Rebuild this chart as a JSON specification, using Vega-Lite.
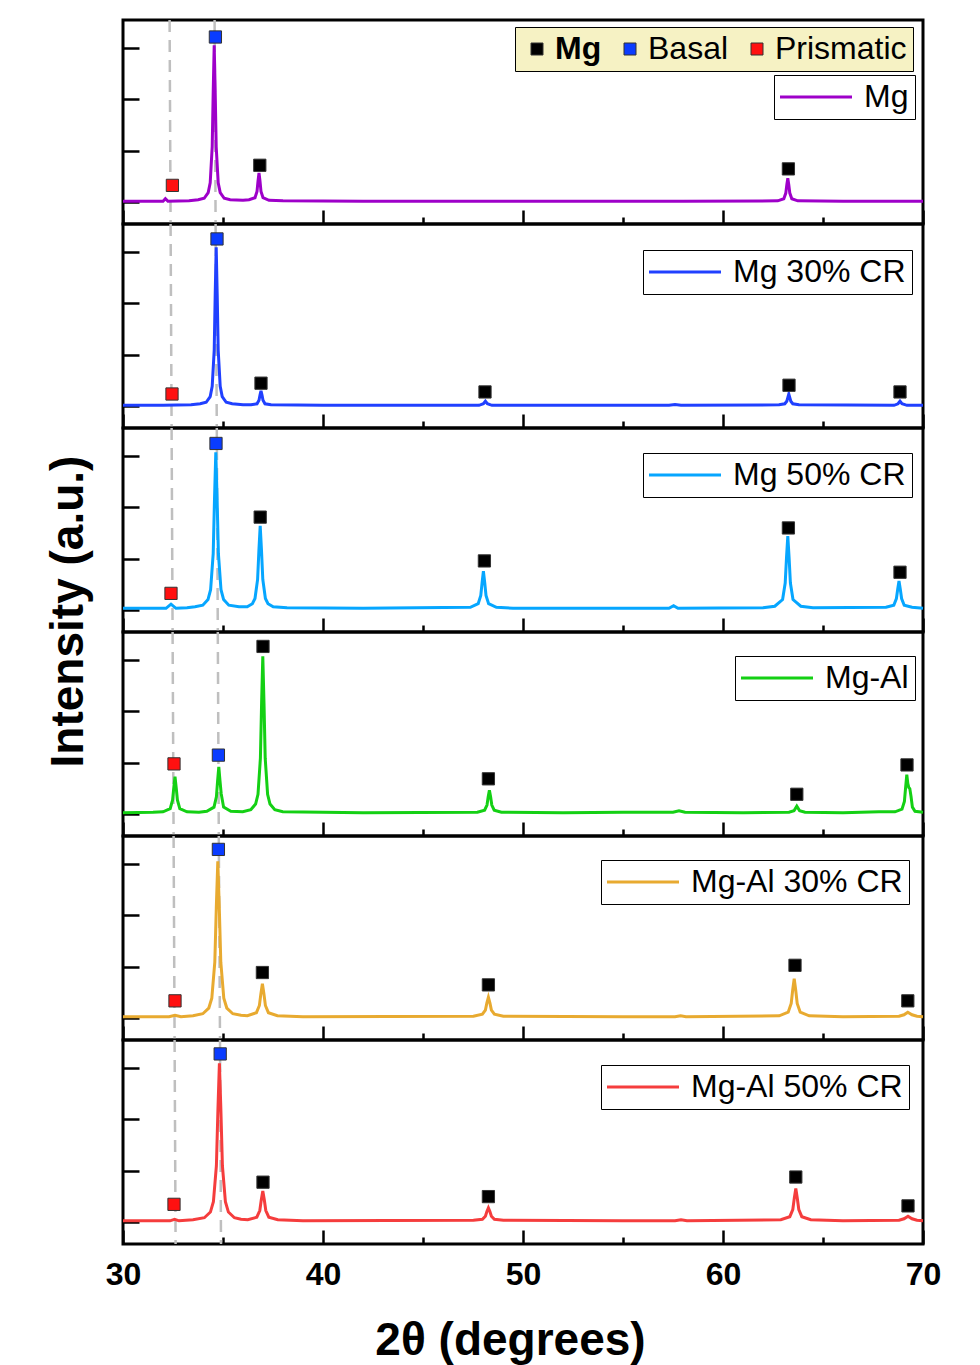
{
  "$schema": "https://vega.github.io/schema/vega-lite/v6.json",
  "background": "white",
  "padding": {"left": 43, "top": 17, "right": 40, "bottom": 0},
  "spacing": 0,
  "bounds": "flush",
  "resolve": {"scale": {"stroke": "independent", "fill": "independent"}, "legend": {"stroke": "independent", "fill": "independent"}},
  "config": {
    "font": "Liberation Sans",
    "view": {"stroke": "black", "strokeWidth": 3},
    "axis": {"domain": false, "grid": false, "tickColor": "black", "tickWidth": 2.5, "labels": false},
    "legend": {"labelFont": "Liberation Sans", "labelColor": "black", "labelFontSize": 32, "labelLimit": 500, "padding": 6}
  },
  "datasets": {
    "guides": [
      {"s": "Mg", "xa": 32.33, "xb": 32.38}, {"s": "Mg", "xa": 34.58, "xb": 34.63},
      {"s": "Mg 30% CR", "xa": 32.38, "xb": 32.43}, {"s": "Mg 30% CR", "xa": 34.63, "xb": 34.69},
      {"s": "Mg 50% CR", "xa": 32.43, "xb": 32.48}, {"s": "Mg 50% CR", "xa": 34.69, "xb": 34.74},
      {"s": "Mg-Al", "xa": 32.48, "xb": 32.53}, {"s": "Mg-Al", "xa": 34.74, "xb": 34.79},
      {"s": "Mg-Al 30% CR", "xa": 32.53, "xb": 32.58}, {"s": "Mg-Al 30% CR", "xa": 34.79, "xb": 34.85},
      {"s": "Mg-Al 50% CR", "xa": 32.58, "xb": 32.63}, {"s": "Mg-Al 50% CR", "xa": 34.85, "xb": 34.9}
    ],
    "marks": [
      {"s": "Mg", "t": "Prismatic", "x": 32.47, "y": 0.33}, {"s": "Mg", "t": "Basal", "x": 34.62, "y": 3.21}, {"s": "Mg", "t": "Mg", "x": 36.84, "y": 0.72}, {"s": "Mg", "t": "Mg", "x": 63.27, "y": 0.65},
      {"s": "Mg 30% CR", "t": "Prismatic", "x": 32.45, "y": 0.24}, {"s": "Mg 30% CR", "t": "Basal", "x": 34.7, "y": 3.25}, {"s": "Mg 30% CR", "t": "Mg", "x": 36.9, "y": 0.45}, {"s": "Mg 30% CR", "t": "Mg", "x": 48.1, "y": 0.28}, {"s": "Mg 30% CR", "t": "Mg", "x": 63.3, "y": 0.41}, {"s": "Mg 30% CR", "t": "Mg", "x": 68.85, "y": 0.28},
      {"s": "Mg 50% CR", "t": "Prismatic", "x": 32.4, "y": 0.33}, {"s": "Mg 50% CR", "t": "Basal", "x": 34.65, "y": 3.24}, {"s": "Mg 50% CR", "t": "Mg", "x": 36.86, "y": 1.81}, {"s": "Mg 50% CR", "t": "Mg", "x": 48.07, "y": 0.96}, {"s": "Mg 50% CR", "t": "Mg", "x": 63.27, "y": 1.6}, {"s": "Mg 50% CR", "t": "Mg", "x": 68.85, "y": 0.74},
      {"s": "Mg-Al", "t": "Prismatic", "x": 32.55, "y": 0.98}, {"s": "Mg-Al", "t": "Basal", "x": 34.77, "y": 1.15}, {"s": "Mg-Al", "t": "Mg", "x": 37.0, "y": 3.26}, {"s": "Mg-Al", "t": "Mg", "x": 48.27, "y": 0.69}, {"s": "Mg-Al", "t": "Mg", "x": 63.69, "y": 0.39}, {"s": "Mg-Al", "t": "Mg", "x": 69.2, "y": 0.96},
      {"s": "Mg-Al 30% CR", "t": "Prismatic", "x": 32.6, "y": 0.34}, {"s": "Mg-Al 30% CR", "t": "Basal", "x": 34.77, "y": 3.28}, {"s": "Mg-Al 30% CR", "t": "Mg", "x": 36.97, "y": 0.89}, {"s": "Mg-Al 30% CR", "t": "Mg", "x": 48.27, "y": 0.65}, {"s": "Mg-Al 30% CR", "t": "Mg", "x": 63.6, "y": 1.03}, {"s": "Mg-Al 30% CR", "t": "Mg", "x": 69.24, "y": 0.34},
      {"s": "Mg-Al 50% CR", "t": "Prismatic", "x": 32.55, "y": 0.35}, {"s": "Mg-Al 50% CR", "t": "Basal", "x": 34.86, "y": 3.27}, {"s": "Mg-Al 50% CR", "t": "Mg", "x": 37.0, "y": 0.78}, {"s": "Mg-Al 50% CR", "t": "Mg", "x": 48.27, "y": 0.5}, {"s": "Mg-Al 50% CR", "t": "Mg", "x": 63.64, "y": 0.88}, {"s": "Mg-Al 50% CR", "t": "Mg", "x": 69.25, "y": 0.32}
    ],
    "xrd": [
      {"s": "Mg", "x": 30, "y": 0.02}, {"s": "Mg", "x": 31, "y": 0.02}, {"s": "Mg", "x": 32.0, "y": 0.02}, {"s": "Mg", "x": 32.12, "y": 0.07}, {"s": "Mg", "x": 32.25, "y": 0.02}, {"s": "Mg", "x": 33.3, "y": 0.03}, {"s": "Mg", "x": 33.76, "y": 0.05}, {"s": "Mg", "x": 34.06, "y": 0.08}, {"s": "Mg", "x": 34.26, "y": 0.19}, {"s": "Mg", "x": 34.36, "y": 0.38}, {"s": "Mg", "x": 34.46, "y": 1.08}, {"s": "Mg", "x": 34.51, "y": 2.14}, {"s": "Mg", "x": 34.56, "y": 3.05}, {"s": "Mg", "x": 34.61, "y": 2.14}, {"s": "Mg", "x": 34.66, "y": 1.08}, {"s": "Mg", "x": 34.76, "y": 0.38}, {"s": "Mg", "x": 34.86, "y": 0.19}, {"s": "Mg", "x": 35.06, "y": 0.08}, {"s": "Mg", "x": 35.36, "y": 0.05}, {"s": "Mg", "x": 36.0, "y": 0.04}, {"s": "Mg", "x": 36.3, "y": 0.05}, {"s": "Mg", "x": 36.6, "y": 0.09}, {"s": "Mg", "x": 36.7, "y": 0.21}, {"s": "Mg", "x": 36.75, "y": 0.41}, {"s": "Mg", "x": 36.8, "y": 0.57}, {"s": "Mg", "x": 36.85, "y": 0.41}, {"s": "Mg", "x": 36.9, "y": 0.21}, {"s": "Mg", "x": 37.0, "y": 0.09}, {"s": "Mg", "x": 37.3, "y": 0.04}, {"s": "Mg", "x": 38, "y": 0.03}, {"s": "Mg", "x": 42, "y": 0.02}, {"s": "Mg", "x": 50, "y": 0.02}, {"s": "Mg", "x": 58, "y": 0.02}, {"s": "Mg", "x": 62.74, "y": 0.03}, {"s": "Mg", "x": 63.04, "y": 0.07}, {"s": "Mg", "x": 63.14, "y": 0.18}, {"s": "Mg", "x": 63.19, "y": 0.34}, {"s": "Mg", "x": 63.24, "y": 0.47}, {"s": "Mg", "x": 63.29, "y": 0.34}, {"s": "Mg", "x": 63.34, "y": 0.18}, {"s": "Mg", "x": 63.44, "y": 0.07}, {"s": "Mg", "x": 63.74, "y": 0.03}, {"s": "Mg", "x": 66, "y": 0.02}, {"s": "Mg", "x": 70, "y": 0.02},

      {"s": "Mg 30% CR", "x": 30, "y": 0.02}, {"s": "Mg 30% CR", "x": 32, "y": 0.02}, {"s": "Mg 30% CR", "x": 33.4, "y": 0.03}, {"s": "Mg 30% CR", "x": 33.86, "y": 0.05}, {"s": "Mg 30% CR", "x": 34.16, "y": 0.08}, {"s": "Mg 30% CR", "x": 34.36, "y": 0.19}, {"s": "Mg 30% CR", "x": 34.46, "y": 0.39}, {"s": "Mg 30% CR", "x": 34.56, "y": 1.09}, {"s": "Mg 30% CR", "x": 34.61, "y": 2.17}, {"s": "Mg 30% CR", "x": 34.66, "y": 3.09}, {"s": "Mg 30% CR", "x": 34.71, "y": 2.17}, {"s": "Mg 30% CR", "x": 34.76, "y": 1.09}, {"s": "Mg 30% CR", "x": 34.86, "y": 0.39}, {"s": "Mg 30% CR", "x": 34.96, "y": 0.19}, {"s": "Mg 30% CR", "x": 35.16, "y": 0.08}, {"s": "Mg 30% CR", "x": 35.46, "y": 0.05}, {"s": "Mg 30% CR", "x": 36.0, "y": 0.03}, {"s": "Mg 30% CR", "x": 36.4, "y": 0.03}, {"s": "Mg 30% CR", "x": 36.7, "y": 0.05}, {"s": "Mg 30% CR", "x": 36.8, "y": 0.12}, {"s": "Mg 30% CR", "x": 36.85, "y": 0.22}, {"s": "Mg 30% CR", "x": 36.9, "y": 0.3}, {"s": "Mg 30% CR", "x": 36.95, "y": 0.22}, {"s": "Mg 30% CR", "x": 37.0, "y": 0.12}, {"s": "Mg 30% CR", "x": 37.1, "y": 0.05}, {"s": "Mg 30% CR", "x": 37.4, "y": 0.03}, {"s": "Mg 30% CR", "x": 40, "y": 0.02}, {"s": "Mg 30% CR", "x": 47.8, "y": 0.02}, {"s": "Mg 30% CR", "x": 48.02, "y": 0.05}, {"s": "Mg 30% CR", "x": 48.12, "y": 0.1}, {"s": "Mg 30% CR", "x": 48.22, "y": 0.05}, {"s": "Mg 30% CR", "x": 48.45, "y": 0.02}, {"s": "Mg 30% CR", "x": 57.3, "y": 0.02}, {"s": "Mg 30% CR", "x": 57.6, "y": 0.035}, {"s": "Mg 30% CR", "x": 57.9, "y": 0.02}, {"s": "Mg 30% CR", "x": 62.8, "y": 0.03}, {"s": "Mg 30% CR", "x": 63.09, "y": 0.05}, {"s": "Mg 30% CR", "x": 63.19, "y": 0.1}, {"s": "Mg 30% CR", "x": 63.24, "y": 0.17}, {"s": "Mg 30% CR", "x": 63.29, "y": 0.24}, {"s": "Mg 30% CR", "x": 63.34, "y": 0.17}, {"s": "Mg 30% CR", "x": 63.39, "y": 0.1}, {"s": "Mg 30% CR", "x": 63.49, "y": 0.05}, {"s": "Mg 30% CR", "x": 63.8, "y": 0.03}, {"s": "Mg 30% CR", "x": 68.55, "y": 0.02}, {"s": "Mg 30% CR", "x": 68.75, "y": 0.05}, {"s": "Mg 30% CR", "x": 68.85, "y": 0.1}, {"s": "Mg 30% CR", "x": 68.95, "y": 0.05}, {"s": "Mg 30% CR", "x": 69.2, "y": 0.02}, {"s": "Mg 30% CR", "x": 70, "y": 0.02},

      {"s": "Mg 50% CR", "x": 30, "y": 0.04}, {"s": "Mg 50% CR", "x": 32.15, "y": 0.04}, {"s": "Mg 50% CR", "x": 32.4, "y": 0.12}, {"s": "Mg 50% CR", "x": 32.65, "y": 0.04}, {"s": "Mg 50% CR", "x": 33.2, "y": 0.05}, {"s": "Mg 50% CR", "x": 33.6, "y": 0.07}, {"s": "Mg 50% CR", "x": 33.99, "y": 0.1}, {"s": "Mg 50% CR", "x": 34.25, "y": 0.21}, {"s": "Mg 50% CR", "x": 34.38, "y": 0.4}, {"s": "Mg 50% CR", "x": 34.51, "y": 1.1}, {"s": "Mg 50% CR", "x": 34.575, "y": 2.16}, {"s": "Mg 50% CR", "x": 34.64, "y": 3.07}, {"s": "Mg 50% CR", "x": 34.705, "y": 2.16}, {"s": "Mg 50% CR", "x": 34.77, "y": 1.1}, {"s": "Mg 50% CR", "x": 34.9, "y": 0.4}, {"s": "Mg 50% CR", "x": 35.03, "y": 0.21}, {"s": "Mg 50% CR", "x": 35.29, "y": 0.1}, {"s": "Mg 50% CR", "x": 35.8, "y": 0.07}, {"s": "Mg 50% CR", "x": 36.21, "y": 0.07}, {"s": "Mg 50% CR", "x": 36.47, "y": 0.13}, {"s": "Mg 50% CR", "x": 36.6, "y": 0.23}, {"s": "Mg 50% CR", "x": 36.73, "y": 0.6}, {"s": "Mg 50% CR", "x": 36.795, "y": 1.16}, {"s": "Mg 50% CR", "x": 36.86, "y": 1.64}, {"s": "Mg 50% CR", "x": 36.925, "y": 1.16}, {"s": "Mg 50% CR", "x": 36.99, "y": 0.6}, {"s": "Mg 50% CR", "x": 37.12, "y": 0.23}, {"s": "Mg 50% CR", "x": 37.25, "y": 0.13}, {"s": "Mg 50% CR", "x": 37.51, "y": 0.07}, {"s": "Mg 50% CR", "x": 38.2, "y": 0.05}, {"s": "Mg 50% CR", "x": 42, "y": 0.04}, {"s": "Mg 50% CR", "x": 47.37, "y": 0.06}, {"s": "Mg 50% CR", "x": 47.76, "y": 0.13}, {"s": "Mg 50% CR", "x": 47.89, "y": 0.29}, {"s": "Mg 50% CR", "x": 47.955, "y": 0.54}, {"s": "Mg 50% CR", "x": 48.02, "y": 0.76}, {"s": "Mg 50% CR", "x": 48.085, "y": 0.54}, {"s": "Mg 50% CR", "x": 48.15, "y": 0.29}, {"s": "Mg 50% CR", "x": 48.28, "y": 0.13}, {"s": "Mg 50% CR", "x": 48.67, "y": 0.06}, {"s": "Mg 50% CR", "x": 49.5, "y": 0.04}, {"s": "Mg 50% CR", "x": 57.3, "y": 0.04}, {"s": "Mg 50% CR", "x": 57.53, "y": 0.09}, {"s": "Mg 50% CR", "x": 57.75, "y": 0.04}, {"s": "Mg 50% CR", "x": 62.0, "y": 0.05}, {"s": "Mg 50% CR", "x": 62.59, "y": 0.08}, {"s": "Mg 50% CR", "x": 62.98, "y": 0.21}, {"s": "Mg 50% CR", "x": 63.11, "y": 0.53}, {"s": "Mg 50% CR", "x": 63.175, "y": 1.02}, {"s": "Mg 50% CR", "x": 63.24, "y": 1.44}, {"s": "Mg 50% CR", "x": 63.305, "y": 1.02}, {"s": "Mg 50% CR", "x": 63.37, "y": 0.53}, {"s": "Mg 50% CR", "x": 63.5, "y": 0.21}, {"s": "Mg 50% CR", "x": 63.89, "y": 0.08}, {"s": "Mg 50% CR", "x": 64.5, "y": 0.05}, {"s": "Mg 50% CR", "x": 68.15, "y": 0.06}, {"s": "Mg 50% CR", "x": 68.54, "y": 0.1}, {"s": "Mg 50% CR", "x": 68.67, "y": 0.23}, {"s": "Mg 50% CR", "x": 68.735, "y": 0.41}, {"s": "Mg 50% CR", "x": 68.8, "y": 0.57}, {"s": "Mg 50% CR", "x": 68.865, "y": 0.41}, {"s": "Mg 50% CR", "x": 68.93, "y": 0.23}, {"s": "Mg 50% CR", "x": 69.06, "y": 0.1}, {"s": "Mg 50% CR", "x": 69.45, "y": 0.06}, {"s": "Mg 50% CR", "x": 70, "y": 0.04},

      {"s": "Mg-Al", "x": 30, "y": 0.03}, {"s": "Mg-Al", "x": 31.5, "y": 0.04}, {"s": "Mg-Al", "x": 32.0, "y": 0.05}, {"s": "Mg-Al", "x": 32.36, "y": 0.11}, {"s": "Mg-Al", "x": 32.48, "y": 0.28}, {"s": "Mg-Al", "x": 32.54, "y": 0.52}, {"s": "Mg-Al", "x": 32.6, "y": 0.73}, {"s": "Mg-Al", "x": 32.66, "y": 0.52}, {"s": "Mg-Al", "x": 32.72, "y": 0.28}, {"s": "Mg-Al", "x": 32.84, "y": 0.11}, {"s": "Mg-Al", "x": 33.2, "y": 0.05}, {"s": "Mg-Al", "x": 33.8, "y": 0.04}, {"s": "Mg-Al", "x": 34.19, "y": 0.06}, {"s": "Mg-Al", "x": 34.55, "y": 0.14}, {"s": "Mg-Al", "x": 34.67, "y": 0.34}, {"s": "Mg-Al", "x": 34.73, "y": 0.65}, {"s": "Mg-Al", "x": 34.79, "y": 0.92}, {"s": "Mg-Al", "x": 34.85, "y": 0.65}, {"s": "Mg-Al", "x": 34.91, "y": 0.4}, {"s": "Mg-Al", "x": 35.03, "y": 0.14}, {"s": "Mg-Al", "x": 35.39, "y": 0.06}, {"s": "Mg-Al", "x": 35.99, "y": 0.05}, {"s": "Mg-Al", "x": 36.39, "y": 0.09}, {"s": "Mg-Al", "x": 36.63, "y": 0.2}, {"s": "Mg-Al", "x": 36.75, "y": 0.39}, {"s": "Mg-Al", "x": 36.87, "y": 1.09}, {"s": "Mg-Al", "x": 36.93, "y": 2.16}, {"s": "Mg-Al", "x": 36.99, "y": 3.07}, {"s": "Mg-Al", "x": 37.05, "y": 2.16}, {"s": "Mg-Al", "x": 37.11, "y": 1.09}, {"s": "Mg-Al", "x": 37.23, "y": 0.39}, {"s": "Mg-Al", "x": 37.35, "y": 0.2}, {"s": "Mg-Al", "x": 37.59, "y": 0.09}, {"s": "Mg-Al", "x": 37.99, "y": 0.05}, {"s": "Mg-Al", "x": 42, "y": 0.03}, {"s": "Mg-Al", "x": 47.72, "y": 0.04}, {"s": "Mg-Al", "x": 48.08, "y": 0.08}, {"s": "Mg-Al", "x": 48.2, "y": 0.18}, {"s": "Mg-Al", "x": 48.26, "y": 0.34}, {"s": "Mg-Al", "x": 48.32, "y": 0.47}, {"s": "Mg-Al", "x": 48.38, "y": 0.34}, {"s": "Mg-Al", "x": 48.44, "y": 0.18}, {"s": "Mg-Al", "x": 48.56, "y": 0.08}, {"s": "Mg-Al", "x": 48.92, "y": 0.04}, {"s": "Mg-Al", "x": 52, "y": 0.03}, {"s": "Mg-Al", "x": 55, "y": 0.04}, {"s": "Mg-Al", "x": 57.5, "y": 0.04}, {"s": "Mg-Al", "x": 57.8, "y": 0.07}, {"s": "Mg-Al", "x": 58.1, "y": 0.04}, {"s": "Mg-Al", "x": 61, "y": 0.03}, {"s": "Mg-Al", "x": 63.3, "y": 0.04}, {"s": "Mg-Al", "x": 63.55, "y": 0.07}, {"s": "Mg-Al", "x": 63.69, "y": 0.16}, {"s": "Mg-Al", "x": 63.83, "y": 0.07}, {"s": "Mg-Al", "x": 64.1, "y": 0.04}, {"s": "Mg-Al", "x": 66, "y": 0.03}, {"s": "Mg-Al", "x": 67.8, "y": 0.05}, {"s": "Mg-Al", "x": 68.6, "y": 0.05}, {"s": "Mg-Al", "x": 68.95, "y": 0.1}, {"s": "Mg-Al", "x": 69.07, "y": 0.25}, {"s": "Mg-Al", "x": 69.13, "y": 0.52}, {"s": "Mg-Al", "x": 69.19, "y": 0.77}, {"s": "Mg-Al", "x": 69.24, "y": 0.6}, {"s": "Mg-Al", "x": 69.29, "y": 0.52}, {"s": "Mg-Al", "x": 69.34, "y": 0.5}, {"s": "Mg-Al", "x": 69.4, "y": 0.35}, {"s": "Mg-Al", "x": 69.47, "y": 0.14}, {"s": "Mg-Al", "x": 69.6, "y": 0.06}, {"s": "Mg-Al", "x": 70, "y": 0.04},

      {"s": "Mg-Al 30% CR", "x": 30, "y": 0.03}, {"s": "Mg-Al 30% CR", "x": 32.3, "y": 0.03}, {"s": "Mg-Al 30% CR", "x": 32.6, "y": 0.06}, {"s": "Mg-Al 30% CR", "x": 32.9, "y": 0.03}, {"s": "Mg-Al 30% CR", "x": 33.5, "y": 0.05}, {"s": "Mg-Al 30% CR", "x": 33.99, "y": 0.09}, {"s": "Mg-Al 30% CR", "x": 34.29, "y": 0.2}, {"s": "Mg-Al 30% CR", "x": 34.44, "y": 0.39}, {"s": "Mg-Al 30% CR", "x": 34.59, "y": 1.09}, {"s": "Mg-Al 30% CR", "x": 34.665, "y": 2.14}, {"s": "Mg-Al 30% CR", "x": 34.74, "y": 3.05}, {"s": "Mg-Al 30% CR", "x": 34.815, "y": 2.14}, {"s": "Mg-Al 30% CR", "x": 34.89, "y": 1.09}, {"s": "Mg-Al 30% CR", "x": 35.04, "y": 0.39}, {"s": "Mg-Al 30% CR", "x": 35.19, "y": 0.2}, {"s": "Mg-Al 30% CR", "x": 35.49, "y": 0.09}, {"s": "Mg-Al 30% CR", "x": 35.9, "y": 0.06}, {"s": "Mg-Al 30% CR", "x": 36.22, "y": 0.05}, {"s": "Mg-Al 30% CR", "x": 36.67, "y": 0.11}, {"s": "Mg-Al 30% CR", "x": 36.82, "y": 0.25}, {"s": "Mg-Al 30% CR", "x": 36.895, "y": 0.48}, {"s": "Mg-Al 30% CR", "x": 36.97, "y": 0.67}, {"s": "Mg-Al 30% CR", "x": 37.045, "y": 0.48}, {"s": "Mg-Al 30% CR", "x": 37.12, "y": 0.25}, {"s": "Mg-Al 30% CR", "x": 37.27, "y": 0.11}, {"s": "Mg-Al 30% CR", "x": 37.72, "y": 0.05}, {"s": "Mg-Al 30% CR", "x": 39, "y": 0.03}, {"s": "Mg-Al 30% CR", "x": 47.52, "y": 0.04}, {"s": "Mg-Al 30% CR", "x": 47.97, "y": 0.08}, {"s": "Mg-Al 30% CR", "x": 48.12, "y": 0.16}, {"s": "Mg-Al 30% CR", "x": 48.195, "y": 0.3}, {"s": "Mg-Al 30% CR", "x": 48.27, "y": 0.41}, {"s": "Mg-Al 30% CR", "x": 48.345, "y": 0.3}, {"s": "Mg-Al 30% CR", "x": 48.42, "y": 0.16}, {"s": "Mg-Al 30% CR", "x": 48.57, "y": 0.08}, {"s": "Mg-Al 30% CR", "x": 49.02, "y": 0.04}, {"s": "Mg-Al 30% CR", "x": 55, "y": 0.03}, {"s": "Mg-Al 30% CR", "x": 57.6, "y": 0.03}, {"s": "Mg-Al 30% CR", "x": 57.88, "y": 0.05}, {"s": "Mg-Al 30% CR", "x": 58.15, "y": 0.03}, {"s": "Mg-Al 30% CR", "x": 62.81, "y": 0.05}, {"s": "Mg-Al 30% CR", "x": 63.26, "y": 0.12}, {"s": "Mg-Al 30% CR", "x": 63.41, "y": 0.29}, {"s": "Mg-Al 30% CR", "x": 63.485, "y": 0.55}, {"s": "Mg-Al 30% CR", "x": 63.56, "y": 0.77}, {"s": "Mg-Al 30% CR", "x": 63.635, "y": 0.55}, {"s": "Mg-Al 30% CR", "x": 63.71, "y": 0.29}, {"s": "Mg-Al 30% CR", "x": 63.86, "y": 0.12}, {"s": "Mg-Al 30% CR", "x": 64.31, "y": 0.05}, {"s": "Mg-Al 30% CR", "x": 66, "y": 0.03}, {"s": "Mg-Al 30% CR", "x": 68.8, "y": 0.04}, {"s": "Mg-Al 30% CR", "x": 69.05, "y": 0.07}, {"s": "Mg-Al 30% CR", "x": 69.24, "y": 0.12}, {"s": "Mg-Al 30% CR", "x": 69.45, "y": 0.07}, {"s": "Mg-Al 30% CR", "x": 69.7, "y": 0.04}, {"s": "Mg-Al 30% CR", "x": 70, "y": 0.03},

      {"s": "Mg-Al 50% CR", "x": 30, "y": 0.03}, {"s": "Mg-Al 50% CR", "x": 32.35, "y": 0.03}, {"s": "Mg-Al 50% CR", "x": 32.58, "y": 0.06}, {"s": "Mg-Al 50% CR", "x": 32.8, "y": 0.03}, {"s": "Mg-Al 50% CR", "x": 33.5, "y": 0.05}, {"s": "Mg-Al 50% CR", "x": 34.07, "y": 0.09}, {"s": "Mg-Al 50% CR", "x": 34.37, "y": 0.2}, {"s": "Mg-Al 50% CR", "x": 34.52, "y": 0.4}, {"s": "Mg-Al 50% CR", "x": 34.67, "y": 1.1}, {"s": "Mg-Al 50% CR", "x": 34.745, "y": 2.17}, {"s": "Mg-Al 50% CR", "x": 34.82, "y": 3.09}, {"s": "Mg-Al 50% CR", "x": 34.895, "y": 2.17}, {"s": "Mg-Al 50% CR", "x": 34.97, "y": 1.1}, {"s": "Mg-Al 50% CR", "x": 35.12, "y": 0.4}, {"s": "Mg-Al 50% CR", "x": 35.27, "y": 0.2}, {"s": "Mg-Al 50% CR", "x": 35.57, "y": 0.09}, {"s": "Mg-Al 50% CR", "x": 35.9, "y": 0.06}, {"s": "Mg-Al 50% CR", "x": 36.24, "y": 0.05}, {"s": "Mg-Al 50% CR", "x": 36.69, "y": 0.1}, {"s": "Mg-Al 50% CR", "x": 36.84, "y": 0.23}, {"s": "Mg-Al 50% CR", "x": 36.915, "y": 0.44}, {"s": "Mg-Al 50% CR", "x": 36.99, "y": 0.61}, {"s": "Mg-Al 50% CR", "x": 37.065, "y": 0.44}, {"s": "Mg-Al 50% CR", "x": 37.14, "y": 0.23}, {"s": "Mg-Al 50% CR", "x": 37.29, "y": 0.1}, {"s": "Mg-Al 50% CR", "x": 37.74, "y": 0.05}, {"s": "Mg-Al 50% CR", "x": 39, "y": 0.03}, {"s": "Mg-Al 50% CR", "x": 47.52, "y": 0.04}, {"s": "Mg-Al 50% CR", "x": 47.97, "y": 0.06}, {"s": "Mg-Al 50% CR", "x": 48.12, "y": 0.12}, {"s": "Mg-Al 50% CR", "x": 48.195, "y": 0.21}, {"s": "Mg-Al 50% CR", "x": 48.27, "y": 0.28}, {"s": "Mg-Al 50% CR", "x": 48.345, "y": 0.21}, {"s": "Mg-Al 50% CR", "x": 48.42, "y": 0.12}, {"s": "Mg-Al 50% CR", "x": 48.57, "y": 0.06}, {"s": "Mg-Al 50% CR", "x": 49.02, "y": 0.04}, {"s": "Mg-Al 50% CR", "x": 55, "y": 0.03}, {"s": "Mg-Al 50% CR", "x": 57.6, "y": 0.03}, {"s": "Mg-Al 50% CR", "x": 57.9, "y": 0.05}, {"s": "Mg-Al 50% CR", "x": 58.2, "y": 0.03}, {"s": "Mg-Al 50% CR", "x": 62.89, "y": 0.05}, {"s": "Mg-Al 50% CR", "x": 63.34, "y": 0.11}, {"s": "Mg-Al 50% CR", "x": 63.49, "y": 0.25}, {"s": "Mg-Al 50% CR", "x": 63.565, "y": 0.47}, {"s": "Mg-Al 50% CR", "x": 63.64, "y": 0.66}, {"s": "Mg-Al 50% CR", "x": 63.715, "y": 0.47}, {"s": "Mg-Al 50% CR", "x": 63.79, "y": 0.25}, {"s": "Mg-Al 50% CR", "x": 63.94, "y": 0.11}, {"s": "Mg-Al 50% CR", "x": 64.39, "y": 0.05}, {"s": "Mg-Al 50% CR", "x": 66, "y": 0.03}, {"s": "Mg-Al 50% CR", "x": 68.8, "y": 0.04}, {"s": "Mg-Al 50% CR", "x": 69.05, "y": 0.07}, {"s": "Mg-Al 50% CR", "x": 69.25, "y": 0.12}, {"s": "Mg-Al 50% CR", "x": 69.45, "y": 0.07}, {"s": "Mg-Al 50% CR", "x": 69.7, "y": 0.04}, {"s": "Mg-Al 50% CR", "x": 70, "y": 0.03}
    ]
  },
  "vconcat": [
    {
      "width": 800, "height": 204,
      "layer": [
        {"data": {"name": "guides"}, "transform": [{"filter": "datum.s === 'Mg'"}],
         "mark": {"type": "rule", "color": "#bfbfbf", "strokeWidth": 2.5, "strokeDash": [12, 8]},
         "encoding": {"x": {"field": "xa", "type": "quantitative", "scale": {"domain": [30, 70], "nice": false, "zero": false}}, "x2": {"field": "xb"}, "y": {"datum": 3.54, "type": "quantitative", "scale": {"domain": [-0.42, 3.54], "nice": false, "zero": false}}, "y2": {"datum": -0.42}}},
        {"data": {"name": "xrd"}, "transform": [{"filter": "datum.s === 'Mg'"}],
         "mark": {"type": "line", "strokeWidth": 3},
         "encoding": {
           "x": {"field": "x", "type": "quantitative", "axis": {"title": null, "values": [30, 35, 40, 45, 50, 55, 60, 65, 70], "labels": false, "tickSize": {"condition": {"test": "datum.value % 10 === 0", "value": -14}, "value": -7}}},
           "y": {"field": "y", "type": "quantitative", "axis": {"title": null, "values": [0, 0.5, 1, 1.5, 2, 2.5, 3, 3.5], "labels": false, "tickSize": {"condition": {"test": "datum.value % 1 === 0", "value": -16}, "value": -8}}},
           "stroke": {"field": "s", "type": "nominal", "scale": {"domain": ["Mg"], "range": ["#9e00c9"]},
             "legend": {"orient": "none", "legendX": 651, "legendY": 55, "title": null, "symbolType": "M-3,0H3", "symbolSize": 576, "symbolStrokeWidth": 3, "symbolOffset": 20, "labelOffset": 32, "strokeColor": "black", "fillColor": "white"}}
         }},
        {"data": {"name": "marks"}, "transform": [{"filter": "datum.s === 'Mg'"}],
         "mark": {"type": "point", "shape": "square", "filled": true, "size": 150, "stroke": "#333333", "strokeWidth": 1, "opacity": 1},
         "encoding": {"x": {"field": "x", "type": "quantitative"}, "y": {"field": "y", "type": "quantitative"},
           "fill": {"field": "t", "type": "nominal", "scale": {"domain": ["Mg", "Basal", "Prismatic"], "range": ["#000000", "#0a3cff", "#ff1010"]},
             "legend": {"orient": "none", "legendX": 392, "legendY": 7, "direction": "horizontal", "title": null, "symbolType": "square", "symbolSize": 144, "symbolStrokeColor": "#333333", "symbolStrokeWidth": 1, "symbolOpacity": 1, "labelOffset": 2, "columnPadding": 12, "fillColor": "#f6f2c4", "strokeColor": "black",
               "encode": {"labels": {"update": {"fontWeight": {"signal": "datum.label === 'Mg' ? 'bold' : 'normal'"}}}}}}}}
      ]
    },
    {
      "width": 800, "height": 204,
      "layer": [
        {"data": {"name": "guides"}, "transform": [{"filter": "datum.s === 'Mg 30% CR'"}],
         "mark": {"type": "rule", "color": "#bfbfbf", "strokeWidth": 2.5, "strokeDash": [12, 8]},
         "encoding": {"x": {"field": "xa", "type": "quantitative", "scale": {"domain": [30, 70], "nice": false, "zero": false}}, "x2": {"field": "xb"}, "y": {"datum": 3.54, "type": "quantitative", "scale": {"domain": [-0.42, 3.54], "nice": false, "zero": false}}, "y2": {"datum": -0.42}}},
        {"data": {"name": "xrd"}, "transform": [{"filter": "datum.s === 'Mg 30% CR'"}],
         "mark": {"type": "line", "strokeWidth": 3},
         "encoding": {
           "x": {"field": "x", "type": "quantitative", "axis": {"title": null, "values": [30, 35, 40, 45, 50, 55, 60, 65, 70], "labels": false, "tickSize": {"condition": {"test": "datum.value % 10 === 0", "value": -14}, "value": -7}}},
           "y": {"field": "y", "type": "quantitative", "axis": {"title": null, "values": [0, 0.5, 1, 1.5, 2, 2.5, 3, 3.5], "labels": false, "tickSize": {"condition": {"test": "datum.value % 1 === 0", "value": -16}, "value": -8}}},
           "stroke": {"field": "s", "type": "nominal", "scale": {"domain": ["Mg 30% CR"], "range": ["#2040ff"]},
             "legend": {"orient": "none", "legendX": 520, "legendY": 26, "title": null, "symbolType": "M-3,0H3", "symbolSize": 576, "symbolStrokeWidth": 3, "symbolOffset": 20, "labelOffset": 32, "strokeColor": "black", "fillColor": "white"}}
         }},
        {"data": {"name": "marks"}, "transform": [{"filter": "datum.s === 'Mg 30% CR'"}],
         "mark": {"type": "point", "shape": "square", "filled": true, "size": 150, "stroke": "#333333", "strokeWidth": 1, "opacity": 1},
         "encoding": {"x": {"field": "x", "type": "quantitative"}, "y": {"field": "y", "type": "quantitative"},
           "fill": {"field": "t", "type": "nominal", "scale": {"domain": ["Mg", "Basal", "Prismatic"], "range": ["#000000", "#0a3cff", "#ff1010"]}, "legend": null}}}
      ]
    },
    {
      "width": 800, "height": 204,
      "layer": [
        {"data": {"name": "guides"}, "transform": [{"filter": "datum.s === 'Mg 50% CR'"}],
         "mark": {"type": "rule", "color": "#bfbfbf", "strokeWidth": 2.5, "strokeDash": [12, 8]},
         "encoding": {"x": {"field": "xa", "type": "quantitative", "scale": {"domain": [30, 70], "nice": false, "zero": false}}, "x2": {"field": "xb"}, "y": {"datum": 3.54, "type": "quantitative", "scale": {"domain": [-0.42, 3.54], "nice": false, "zero": false}}, "y2": {"datum": -0.42}}},
        {"data": {"name": "xrd"}, "transform": [{"filter": "datum.s === 'Mg 50% CR'"}],
         "mark": {"type": "line", "strokeWidth": 3},
         "encoding": {
           "x": {"field": "x", "type": "quantitative", "axis": {"title": null, "values": [30, 35, 40, 45, 50, 55, 60, 65, 70], "labels": false, "tickSize": {"condition": {"test": "datum.value % 10 === 0", "value": -14}, "value": -7}}},
           "y": {"field": "y", "type": "quantitative", "axis": {"title": "Intensity (a.u.)", "values": [0, 0.5, 1, 1.5, 2, 2.5, 3, 3.5], "labels": false, "tickSize": {"condition": {"test": "datum.value % 1 === 0", "value": -16}, "value": -8}, "titleFont": "Liberation Sans", "titleFontSize": 46, "titleFontWeight": "bold", "titleColor": "black", "titleAngle": 270, "titleAlign": "center", "titleBaseline": "alphabetic", "titleX": -41, "titleY": 183}},
           "stroke": {"field": "s", "type": "nominal", "scale": {"domain": ["Mg 50% CR"], "range": ["#06a6ff"]},
             "legend": {"orient": "none", "legendX": 520, "legendY": 25, "title": null, "symbolType": "M-3,0H3", "symbolSize": 576, "symbolStrokeWidth": 3, "symbolOffset": 20, "labelOffset": 32, "strokeColor": "black", "fillColor": "white"}}
         }},
        {"data": {"name": "marks"}, "transform": [{"filter": "datum.s === 'Mg 50% CR'"}],
         "mark": {"type": "point", "shape": "square", "filled": true, "size": 150, "stroke": "#333333", "strokeWidth": 1, "opacity": 1},
         "encoding": {"x": {"field": "x", "type": "quantitative"}, "y": {"field": "y", "type": "quantitative"},
           "fill": {"field": "t", "type": "nominal", "scale": {"domain": ["Mg", "Basal", "Prismatic"], "range": ["#000000", "#0a3cff", "#ff1010"]}, "legend": null}}}
      ]
    },
    {
      "width": 800, "height": 204,
      "layer": [
        {"data": {"name": "guides"}, "transform": [{"filter": "datum.s === 'Mg-Al'"}],
         "mark": {"type": "rule", "color": "#bfbfbf", "strokeWidth": 2.5, "strokeDash": [12, 8]},
         "encoding": {"x": {"field": "xa", "type": "quantitative", "scale": {"domain": [30, 70], "nice": false, "zero": false}}, "x2": {"field": "xb"}, "y": {"datum": 3.54, "type": "quantitative", "scale": {"domain": [-0.42, 3.54], "nice": false, "zero": false}}, "y2": {"datum": -0.42}}},
        {"data": {"name": "xrd"}, "transform": [{"filter": "datum.s === 'Mg-Al'"}],
         "mark": {"type": "line", "strokeWidth": 3},
         "encoding": {
           "x": {"field": "x", "type": "quantitative", "axis": {"title": null, "values": [30, 35, 40, 45, 50, 55, 60, 65, 70], "labels": false, "tickSize": {"condition": {"test": "datum.value % 10 === 0", "value": -14}, "value": -7}}},
           "y": {"field": "y", "type": "quantitative", "axis": {"title": null, "values": [0, 0.5, 1, 1.5, 2, 2.5, 3, 3.5], "labels": false, "tickSize": {"condition": {"test": "datum.value % 1 === 0", "value": -16}, "value": -8}}},
           "stroke": {"field": "s", "type": "nominal", "scale": {"domain": ["Mg-Al"], "range": ["#14d014"]},
             "legend": {"orient": "none", "legendX": 612, "legendY": 24, "title": null, "symbolType": "M-3,0H3", "symbolSize": 576, "symbolStrokeWidth": 3, "symbolOffset": 20, "labelOffset": 32, "strokeColor": "black", "fillColor": "white"}}
         }},
        {"data": {"name": "marks"}, "transform": [{"filter": "datum.s === 'Mg-Al'"}],
         "mark": {"type": "point", "shape": "square", "filled": true, "size": 150, "stroke": "#333333", "strokeWidth": 1, "opacity": 1},
         "encoding": {"x": {"field": "x", "type": "quantitative"}, "y": {"field": "y", "type": "quantitative"},
           "fill": {"field": "t", "type": "nominal", "scale": {"domain": ["Mg", "Basal", "Prismatic"], "range": ["#000000", "#0a3cff", "#ff1010"]}, "legend": null}}}
      ]
    },
    {
      "width": 800, "height": 204,
      "layer": [
        {"data": {"name": "guides"}, "transform": [{"filter": "datum.s === 'Mg-Al 30% CR'"}],
         "mark": {"type": "rule", "color": "#bfbfbf", "strokeWidth": 2.5, "strokeDash": [12, 8]},
         "encoding": {"x": {"field": "xa", "type": "quantitative", "scale": {"domain": [30, 70], "nice": false, "zero": false}}, "x2": {"field": "xb"}, "y": {"datum": 3.54, "type": "quantitative", "scale": {"domain": [-0.42, 3.54], "nice": false, "zero": false}}, "y2": {"datum": -0.42}}},
        {"data": {"name": "xrd"}, "transform": [{"filter": "datum.s === 'Mg-Al 30% CR'"}],
         "mark": {"type": "line", "strokeWidth": 3},
         "encoding": {
           "x": {"field": "x", "type": "quantitative", "axis": {"title": null, "values": [30, 35, 40, 45, 50, 55, 60, 65, 70], "labels": false, "tickSize": {"condition": {"test": "datum.value % 10 === 0", "value": -14}, "value": -7}}},
           "y": {"field": "y", "type": "quantitative", "axis": {"title": null, "values": [0, 0.5, 1, 1.5, 2, 2.5, 3, 3.5], "labels": false, "tickSize": {"condition": {"test": "datum.value % 1 === 0", "value": -16}, "value": -8}}},
           "stroke": {"field": "s", "type": "nominal", "scale": {"domain": ["Mg-Al 30% CR"], "range": ["#e8aa30"]},
             "legend": {"orient": "none", "legendX": 478, "legendY": 24, "title": null, "symbolType": "M-3,0H3", "symbolSize": 576, "symbolStrokeWidth": 3, "symbolOffset": 20, "labelOffset": 32, "strokeColor": "black", "fillColor": "white"}}
         }},
        {"data": {"name": "marks"}, "transform": [{"filter": "datum.s === 'Mg-Al 30% CR'"}],
         "mark": {"type": "point", "shape": "square", "filled": true, "size": 150, "stroke": "#333333", "strokeWidth": 1, "opacity": 1},
         "encoding": {"x": {"field": "x", "type": "quantitative"}, "y": {"field": "y", "type": "quantitative"},
           "fill": {"field": "t", "type": "nominal", "scale": {"domain": ["Mg", "Basal", "Prismatic"], "range": ["#000000", "#0a3cff", "#ff1010"]}, "legend": null}}}
      ]
    },
    {
      "width": 800, "height": 204,
      "layer": [
        {"data": {"name": "guides"}, "transform": [{"filter": "datum.s === 'Mg-Al 50% CR'"}],
         "mark": {"type": "rule", "color": "#bfbfbf", "strokeWidth": 2.5, "strokeDash": [12, 8]},
         "encoding": {"x": {"field": "xa", "type": "quantitative", "scale": {"domain": [30, 70], "nice": false, "zero": false}}, "x2": {"field": "xb"}, "y": {"datum": 3.54, "type": "quantitative", "scale": {"domain": [-0.42, 3.54], "nice": false, "zero": false}}, "y2": {"datum": -0.42}}},
        {"data": {"name": "xrd"}, "transform": [{"filter": "datum.s === 'Mg-Al 50% CR'"}],
         "mark": {"type": "line", "strokeWidth": 3},
         "encoding": {
           "x": {"field": "x", "type": "quantitative", "axis": {"title": "2θ (degrees)", "values": [30, 35, 40, 45, 50, 55, 60, 65, 70], "labels": true, "labelExpr": "datum.value % 10 === 0 ? datum.label : ''", "labelFlush": false, "labelOverlap": false, "labelFont": "Liberation Sans", "labelFontSize": 32, "labelFontWeight": "bold", "labelColor": "black", "labelBaseline": "alphabetic", "labelPadding": 54, "tickSize": {"condition": {"test": "datum.value % 10 === 0", "value": -14}, "value": -7}, "titleFont": "Liberation Sans", "titleFontSize": 46, "titleFontWeight": "bold", "titleColor": "black", "titleBaseline": "alphabetic", "titleX": 387, "titleY": 110}},
           "y": {"field": "y", "type": "quantitative", "axis": {"title": null, "values": [0, 0.5, 1, 1.5, 2, 2.5, 3, 3.5], "labels": false, "tickSize": {"condition": {"test": "datum.value % 1 === 0", "value": -16}, "value": -8}}},
           "stroke": {"field": "s", "type": "nominal", "scale": {"domain": ["Mg-Al 50% CR"], "range": ["#f53d3d"]},
             "legend": {"orient": "none", "legendX": 478, "legendY": 25, "title": null, "symbolType": "M-3,0H3", "symbolSize": 576, "symbolStrokeWidth": 3, "symbolOffset": 20, "labelOffset": 32, "strokeColor": "black", "fillColor": "white"}}
         }},
        {"data": {"name": "marks"}, "transform": [{"filter": "datum.s === 'Mg-Al 50% CR'"}],
         "mark": {"type": "point", "shape": "square", "filled": true, "size": 150, "stroke": "#333333", "strokeWidth": 1, "opacity": 1},
         "encoding": {"x": {"field": "x", "type": "quantitative"}, "y": {"field": "y", "type": "quantitative"},
           "fill": {"field": "t", "type": "nominal", "scale": {"domain": ["Mg", "Basal", "Prismatic"], "range": ["#000000", "#0a3cff", "#ff1010"]}, "legend": null}}}
      ]
    }
  ]
}
